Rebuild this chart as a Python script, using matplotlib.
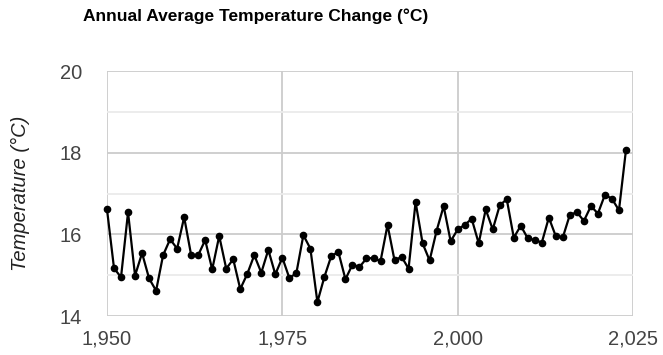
import matplotlib
matplotlib.use("Agg")
import matplotlib.pyplot as plt
from matplotlib.ticker import FixedLocator, FuncFormatter

years = list(range(1950, 2025))
temps = [
    16.61, 15.17, 14.95, 16.54, 14.99, 15.54, 14.92, 14.62, 15.49, 15.88,
    15.65, 16.42, 15.49, 15.49, 15.86, 15.14, 15.96, 15.16, 15.39, 14.66,
    15.03, 15.49, 15.06, 15.62, 15.02, 15.43, 14.93, 15.05, 15.98, 15.65,
    14.34, 14.96, 15.48, 15.56, 14.90, 15.26, 15.20, 15.41, 15.42, 15.34,
    16.23, 15.36, 15.45, 15.16, 16.79, 15.78, 15.36, 16.09, 16.69, 15.83,
    16.12, 16.23, 16.38, 15.78, 16.61, 16.12, 16.71, 16.86, 15.92, 16.21,
    15.90, 15.86, 15.80, 16.41, 15.95, 15.93, 16.48, 16.54, 16.33, 16.69,
    16.51, 16.97, 16.87, 16.59, 18.07,
]
x_ticks = [1950, 1975, 2000, 2025]
y_ticks = [14, 16, 18, 20]
y_minor = [15, 17, 19]

title = "Annual Average Temperature Change (°C)"
y_label = "Temperature (°C)"

plt.rcParams['font.family'] = ['Liberation Sans', 'DejaVu Sans']

fig = plt.figure(figsize=(6.63, 3.55), dpi=100)
ax = fig.add_axes([107/663, 1 - 316/355, (633 - 107)/663, (316 - 71)/355])

ax.plot(years, temps, color='black', linewidth=1.6, marker='o', markersize=4.5, zorder=3,
        clip_on=False)

ax.set_xlim(1950, 2025)
ax.set_ylim(14, 20)
ax.xaxis.set_major_locator(FixedLocator(x_ticks))
ax.yaxis.set_major_locator(FixedLocator(y_ticks))
ax.yaxis.set_minor_locator(FixedLocator(y_minor))
ax.xaxis.set_major_formatter(FuncFormatter(lambda v, p: f"{int(v):,}"))
ax.yaxis.set_major_formatter(FuncFormatter(lambda v, p: f"{int(v)}"))

ax.grid(which='major', color='#cccccc', linewidth=1.3)
ax.grid(which='minor', axis='y', color='#ebebeb', linewidth=1.3)
ax.set_axisbelow(True)
for s in ax.spines.values():
    s.set_visible(False)

ax.tick_params(axis='both', which='both', length=0, labelsize=14.5, labelcolor='#444444')
ax.tick_params(axis='y', pad=18)
ax.tick_params(axis='x', pad=10)

ax.set_ylabel(y_label, fontsize=14.5, style='italic', color='#222222', labelpad=21)

fig.text(83/663, 1 - 21/355, title, fontsize=12.5, fontweight='bold', color='black',
         ha='left', va='baseline')

fig.savefig("out.png", dpi=100)
